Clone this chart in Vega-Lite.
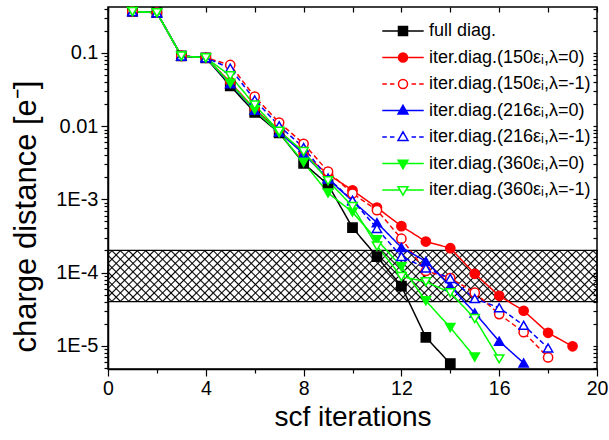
{
  "$schema": "https://vega.github.io/schema/vega-lite/v6.json",
  "width": 489,
  "height": 362,
  "autosize": "none",
  "padding": {"left": 108, "top": 7, "right": 12, "bottom": 71},
  "params": [
    {"name": "hatch", "value": [
      {"offset":0.0050,"color":"transparent"},{"offset":0.0078,"color":"#000"},{"offset":0.0106,"color":"transparent"},
      {"offset":0.0206,"color":"transparent"},{"offset":0.0234,"color":"#000"},{"offset":0.0262,"color":"transparent"},
      {"offset":0.0363,"color":"transparent"},{"offset":0.0391,"color":"#000"},{"offset":0.0419,"color":"transparent"},
      {"offset":0.0519,"color":"transparent"},{"offset":0.0547,"color":"#000"},{"offset":0.0575,"color":"transparent"},
      {"offset":0.0675,"color":"transparent"},{"offset":0.0703,"color":"#000"},{"offset":0.0731,"color":"transparent"},
      {"offset":0.0831,"color":"transparent"},{"offset":0.0859,"color":"#000"},{"offset":0.0887,"color":"transparent"},
      {"offset":0.0988,"color":"transparent"},{"offset":0.1016,"color":"#000"},{"offset":0.1044,"color":"transparent"},
      {"offset":0.1144,"color":"transparent"},{"offset":0.1172,"color":"#000"},{"offset":0.1200,"color":"transparent"},
      {"offset":0.1300,"color":"transparent"},{"offset":0.1328,"color":"#000"},{"offset":0.1356,"color":"transparent"},
      {"offset":0.1456,"color":"transparent"},{"offset":0.1484,"color":"#000"},{"offset":0.1512,"color":"transparent"},
      {"offset":0.1613,"color":"transparent"},{"offset":0.1641,"color":"#000"},{"offset":0.1669,"color":"transparent"},
      {"offset":0.1769,"color":"transparent"},{"offset":0.1797,"color":"#000"},{"offset":0.1825,"color":"transparent"},
      {"offset":0.1925,"color":"transparent"},{"offset":0.1953,"color":"#000"},{"offset":0.1981,"color":"transparent"},
      {"offset":0.2081,"color":"transparent"},{"offset":0.2109,"color":"#000"},{"offset":0.2137,"color":"transparent"},
      {"offset":0.2238,"color":"transparent"},{"offset":0.2266,"color":"#000"},{"offset":0.2294,"color":"transparent"},
      {"offset":0.2394,"color":"transparent"},{"offset":0.2422,"color":"#000"},{"offset":0.2450,"color":"transparent"},
      {"offset":0.2550,"color":"transparent"},{"offset":0.2578,"color":"#000"},{"offset":0.2606,"color":"transparent"},
      {"offset":0.2706,"color":"transparent"},{"offset":0.2734,"color":"#000"},{"offset":0.2762,"color":"transparent"},
      {"offset":0.2863,"color":"transparent"},{"offset":0.2891,"color":"#000"},{"offset":0.2919,"color":"transparent"},
      {"offset":0.3019,"color":"transparent"},{"offset":0.3047,"color":"#000"},{"offset":0.3075,"color":"transparent"},
      {"offset":0.3175,"color":"transparent"},{"offset":0.3203,"color":"#000"},{"offset":0.3231,"color":"transparent"},
      {"offset":0.3331,"color":"transparent"},{"offset":0.3359,"color":"#000"},{"offset":0.3387,"color":"transparent"},
      {"offset":0.3488,"color":"transparent"},{"offset":0.3516,"color":"#000"},{"offset":0.3544,"color":"transparent"},
      {"offset":0.3644,"color":"transparent"},{"offset":0.3672,"color":"#000"},{"offset":0.3700,"color":"transparent"},
      {"offset":0.3800,"color":"transparent"},{"offset":0.3828,"color":"#000"},{"offset":0.3856,"color":"transparent"},
      {"offset":0.3956,"color":"transparent"},{"offset":0.3984,"color":"#000"},{"offset":0.4012,"color":"transparent"},
      {"offset":0.4113,"color":"transparent"},{"offset":0.4141,"color":"#000"},{"offset":0.4169,"color":"transparent"},
      {"offset":0.4269,"color":"transparent"},{"offset":0.4297,"color":"#000"},{"offset":0.4325,"color":"transparent"},
      {"offset":0.4425,"color":"transparent"},{"offset":0.4453,"color":"#000"},{"offset":0.4481,"color":"transparent"},
      {"offset":0.4581,"color":"transparent"},{"offset":0.4609,"color":"#000"},{"offset":0.4637,"color":"transparent"},
      {"offset":0.4738,"color":"transparent"},{"offset":0.4766,"color":"#000"},{"offset":0.4794,"color":"transparent"},
      {"offset":0.4894,"color":"transparent"},{"offset":0.4922,"color":"#000"},{"offset":0.4950,"color":"transparent"},
      {"offset":0.5050,"color":"transparent"},{"offset":0.5078,"color":"#000"},{"offset":0.5106,"color":"transparent"},
      {"offset":0.5206,"color":"transparent"},{"offset":0.5234,"color":"#000"},{"offset":0.5262,"color":"transparent"},
      {"offset":0.5363,"color":"transparent"},{"offset":0.5391,"color":"#000"},{"offset":0.5419,"color":"transparent"},
      {"offset":0.5519,"color":"transparent"},{"offset":0.5547,"color":"#000"},{"offset":0.5575,"color":"transparent"},
      {"offset":0.5675,"color":"transparent"},{"offset":0.5703,"color":"#000"},{"offset":0.5731,"color":"transparent"},
      {"offset":0.5831,"color":"transparent"},{"offset":0.5859,"color":"#000"},{"offset":0.5887,"color":"transparent"},
      {"offset":0.5988,"color":"transparent"},{"offset":0.6016,"color":"#000"},{"offset":0.6044,"color":"transparent"},
      {"offset":0.6144,"color":"transparent"},{"offset":0.6172,"color":"#000"},{"offset":0.6200,"color":"transparent"},
      {"offset":0.6300,"color":"transparent"},{"offset":0.6328,"color":"#000"},{"offset":0.6356,"color":"transparent"},
      {"offset":0.6456,"color":"transparent"},{"offset":0.6484,"color":"#000"},{"offset":0.6512,"color":"transparent"},
      {"offset":0.6613,"color":"transparent"},{"offset":0.6641,"color":"#000"},{"offset":0.6669,"color":"transparent"},
      {"offset":0.6769,"color":"transparent"},{"offset":0.6797,"color":"#000"},{"offset":0.6825,"color":"transparent"},
      {"offset":0.6925,"color":"transparent"},{"offset":0.6953,"color":"#000"},{"offset":0.6981,"color":"transparent"},
      {"offset":0.7081,"color":"transparent"},{"offset":0.7109,"color":"#000"},{"offset":0.7137,"color":"transparent"},
      {"offset":0.7238,"color":"transparent"},{"offset":0.7266,"color":"#000"},{"offset":0.7294,"color":"transparent"},
      {"offset":0.7394,"color":"transparent"},{"offset":0.7422,"color":"#000"},{"offset":0.7450,"color":"transparent"},
      {"offset":0.7550,"color":"transparent"},{"offset":0.7578,"color":"#000"},{"offset":0.7606,"color":"transparent"},
      {"offset":0.7706,"color":"transparent"},{"offset":0.7734,"color":"#000"},{"offset":0.7762,"color":"transparent"},
      {"offset":0.7863,"color":"transparent"},{"offset":0.7891,"color":"#000"},{"offset":0.7919,"color":"transparent"},
      {"offset":0.8019,"color":"transparent"},{"offset":0.8047,"color":"#000"},{"offset":0.8075,"color":"transparent"},
      {"offset":0.8175,"color":"transparent"},{"offset":0.8203,"color":"#000"},{"offset":0.8231,"color":"transparent"},
      {"offset":0.8331,"color":"transparent"},{"offset":0.8359,"color":"#000"},{"offset":0.8387,"color":"transparent"},
      {"offset":0.8488,"color":"transparent"},{"offset":0.8516,"color":"#000"},{"offset":0.8544,"color":"transparent"},
      {"offset":0.8644,"color":"transparent"},{"offset":0.8672,"color":"#000"},{"offset":0.8700,"color":"transparent"},
      {"offset":0.8800,"color":"transparent"},{"offset":0.8828,"color":"#000"},{"offset":0.8856,"color":"transparent"},
      {"offset":0.8956,"color":"transparent"},{"offset":0.8984,"color":"#000"},{"offset":0.9012,"color":"transparent"},
      {"offset":0.9113,"color":"transparent"},{"offset":0.9141,"color":"#000"},{"offset":0.9169,"color":"transparent"},
      {"offset":0.9269,"color":"transparent"},{"offset":0.9297,"color":"#000"},{"offset":0.9325,"color":"transparent"},
      {"offset":0.9425,"color":"transparent"},{"offset":0.9453,"color":"#000"},{"offset":0.9481,"color":"transparent"},
      {"offset":0.9581,"color":"transparent"},{"offset":0.9609,"color":"#000"},{"offset":0.9637,"color":"transparent"},
      {"offset":0.9738,"color":"transparent"},{"offset":0.9766,"color":"#000"},{"offset":0.9794,"color":"transparent"},
      {"offset":0.9894,"color":"transparent"},{"offset":0.9922,"color":"#000"},{"offset":0.9950,"color":"transparent"}
    ]}
  ],
  "data": {
    "values": [
      {"s": "full diag.", "it": 1, "v": 0.37},
      {"s": "full diag.", "it": 2, "v": 0.355},
      {"s": "full diag.", "it": 3, "v": 0.091},
      {"s": "full diag.", "it": 4, "v": 0.086},
      {"s": "full diag.", "it": 5, "v": 0.0355},
      {"s": "full diag.", "it": 6, "v": 0.0154},
      {"s": "full diag.", "it": 7, "v": 0.0081},
      {"s": "full diag.", "it": 8, "v": 0.0031},
      {"s": "full diag.", "it": 9, "v": 0.00159},
      {"s": "full diag.", "it": 10, "v": 0.00041},
      {"s": "full diag.", "it": 11, "v": 0.000165},
      {"s": "full diag.", "it": 12, "v": 0.000065},
      {"s": "full diag.", "it": 13, "v": 0.000013},
      {"s": "full diag.", "it": 14, "v": 0.0000057},

      {"s": "iter.diag.(150εᵢ,λ=0)", "it": 1, "v": 0.37},
      {"s": "iter.diag.(150εᵢ,λ=0)", "it": 2, "v": 0.355},
      {"s": "iter.diag.(150εᵢ,λ=0)", "it": 3, "v": 0.091},
      {"s": "iter.diag.(150εᵢ,λ=0)", "it": 4, "v": 0.086},
      {"s": "iter.diag.(150εᵢ,λ=0)", "it": 5, "v": 0.04},
      {"s": "iter.diag.(150εᵢ,λ=0)", "it": 6, "v": 0.017},
      {"s": "iter.diag.(150εᵢ,λ=0)", "it": 7, "v": 0.0088},
      {"s": "iter.diag.(150εᵢ,λ=0)", "it": 8, "v": 0.0042},
      {"s": "iter.diag.(150εᵢ,λ=0)", "it": 9, "v": 0.0022},
      {"s": "iter.diag.(150εᵢ,λ=0)", "it": 10, "v": 0.00133},
      {"s": "iter.diag.(150εᵢ,λ=0)", "it": 11, "v": 0.00077},
      {"s": "iter.diag.(150εᵢ,λ=0)", "it": 12, "v": 0.00043},
      {"s": "iter.diag.(150εᵢ,λ=0)", "it": 13, "v": 0.000265},
      {"s": "iter.diag.(150εᵢ,λ=0)", "it": 14, "v": 0.000215},
      {"s": "iter.diag.(150εᵢ,λ=0)", "it": 15, "v": 0.000096},
      {"s": "iter.diag.(150εᵢ,λ=0)", "it": 16, "v": 0.000048},
      {"s": "iter.diag.(150εᵢ,λ=0)", "it": 17, "v": 0.00003},
      {"s": "iter.diag.(150εᵢ,λ=0)", "it": 18, "v": 0.000015},
      {"s": "iter.diag.(150εᵢ,λ=0)", "it": 19, "v": 0.0000098},

      {"s": "iter.diag.(150εᵢ,λ=-1)", "it": 1, "v": 0.37},
      {"s": "iter.diag.(150εᵢ,λ=-1)", "it": 2, "v": 0.355},
      {"s": "iter.diag.(150εᵢ,λ=-1)", "it": 3, "v": 0.091},
      {"s": "iter.diag.(150εᵢ,λ=-1)", "it": 4, "v": 0.086},
      {"s": "iter.diag.(150εᵢ,λ=-1)", "it": 5, "v": 0.0686},
      {"s": "iter.diag.(150εᵢ,λ=-1)", "it": 6, "v": 0.0253},
      {"s": "iter.diag.(150εᵢ,λ=-1)", "it": 7, "v": 0.0112},
      {"s": "iter.diag.(150εᵢ,λ=-1)", "it": 8, "v": 0.00575},
      {"s": "iter.diag.(150εᵢ,λ=-1)", "it": 9, "v": 0.0024},
      {"s": "iter.diag.(150εᵢ,λ=-1)", "it": 10, "v": 0.0012},
      {"s": "iter.diag.(150εᵢ,λ=-1)", "it": 11, "v": 0.00071},
      {"s": "iter.diag.(150εᵢ,λ=-1)", "it": 12, "v": 0.00029},
      {"s": "iter.diag.(150εᵢ,λ=-1)", "it": 13, "v": 0.000105},
      {"s": "iter.diag.(150εᵢ,λ=-1)", "it": 14, "v": 0.000084},
      {"s": "iter.diag.(150εᵢ,λ=-1)", "it": 15, "v": 0.000053},
      {"s": "iter.diag.(150εᵢ,λ=-1)", "it": 16, "v": 0.000027},
      {"s": "iter.diag.(150εᵢ,λ=-1)", "it": 17, "v": 0.0000153},
      {"s": "iter.diag.(150εᵢ,λ=-1)", "it": 18, "v": 0.0000069},

      {"s": "iter.diag.(216εᵢ,λ=0)", "it": 1, "v": 0.37},
      {"s": "iter.diag.(216εᵢ,λ=0)", "it": 2, "v": 0.355},
      {"s": "iter.diag.(216εᵢ,λ=0)", "it": 3, "v": 0.091},
      {"s": "iter.diag.(216εᵢ,λ=0)", "it": 4, "v": 0.086},
      {"s": "iter.diag.(216εᵢ,λ=0)", "it": 5, "v": 0.038},
      {"s": "iter.diag.(216εᵢ,λ=0)", "it": 6, "v": 0.0165},
      {"s": "iter.diag.(216εᵢ,λ=0)", "it": 7, "v": 0.0083},
      {"s": "iter.diag.(216εᵢ,λ=0)", "it": 8, "v": 0.0042},
      {"s": "iter.diag.(216εᵢ,λ=0)", "it": 9, "v": 0.0019},
      {"s": "iter.diag.(216εᵢ,λ=0)", "it": 10, "v": 0.00095},
      {"s": "iter.diag.(216εᵢ,λ=0)", "it": 11, "v": 0.00048},
      {"s": "iter.diag.(216εᵢ,λ=0)", "it": 12, "v": 0.00022},
      {"s": "iter.diag.(216εᵢ,λ=0)", "it": 13, "v": 0.000142},
      {"s": "iter.diag.(216εᵢ,λ=0)", "it": 14, "v": 0.000065},
      {"s": "iter.diag.(216εᵢ,λ=0)", "it": 15, "v": 0.000028},
      {"s": "iter.diag.(216εᵢ,λ=0)", "it": 16, "v": 0.0000115},
      {"s": "iter.diag.(216εᵢ,λ=0)", "it": 17, "v": 0.0000058},

      {"s": "iter.diag.(216εᵢ,λ=-1)", "it": 1, "v": 0.37},
      {"s": "iter.diag.(216εᵢ,λ=-1)", "it": 2, "v": 0.355},
      {"s": "iter.diag.(216εᵢ,λ=-1)", "it": 3, "v": 0.091},
      {"s": "iter.diag.(216εᵢ,λ=-1)", "it": 4, "v": 0.086},
      {"s": "iter.diag.(216εᵢ,λ=-1)", "it": 5, "v": 0.062},
      {"s": "iter.diag.(216εᵢ,λ=-1)", "it": 6, "v": 0.0228},
      {"s": "iter.diag.(216εᵢ,λ=-1)", "it": 7, "v": 0.0101},
      {"s": "iter.diag.(216εᵢ,λ=-1)", "it": 8, "v": 0.0051},
      {"s": "iter.diag.(216εᵢ,λ=-1)", "it": 9, "v": 0.00195},
      {"s": "iter.diag.(216εᵢ,λ=-1)", "it": 10, "v": 0.00097},
      {"s": "iter.diag.(216εᵢ,λ=-1)", "it": 11, "v": 0.0004},
      {"s": "iter.diag.(216εᵢ,λ=-1)", "it": 12, "v": 0.000166},
      {"s": "iter.diag.(216εᵢ,λ=-1)", "it": 13, "v": 0.000115},
      {"s": "iter.diag.(216εᵢ,λ=-1)", "it": 14, "v": 0.000083},
      {"s": "iter.diag.(216εᵢ,λ=-1)", "it": 15, "v": 0.000044},
      {"s": "iter.diag.(216εᵢ,λ=-1)", "it": 16, "v": 0.000033},
      {"s": "iter.diag.(216εᵢ,λ=-1)", "it": 17, "v": 0.000019},
      {"s": "iter.diag.(216εᵢ,λ=-1)", "it": 18, "v": 0.0000093},

      {"s": "iter.diag.(360εᵢ,λ=0)", "it": 1, "v": 0.37},
      {"s": "iter.diag.(360εᵢ,λ=0)", "it": 2, "v": 0.355},
      {"s": "iter.diag.(360εᵢ,λ=0)", "it": 3, "v": 0.091},
      {"s": "iter.diag.(360εᵢ,λ=0)", "it": 4, "v": 0.086},
      {"s": "iter.diag.(360εᵢ,λ=0)", "it": 5, "v": 0.0387},
      {"s": "iter.diag.(360εᵢ,λ=0)", "it": 6, "v": 0.0167},
      {"s": "iter.diag.(360εᵢ,λ=0)", "it": 7, "v": 0.0081},
      {"s": "iter.diag.(360εᵢ,λ=0)", "it": 8, "v": 0.0032},
      {"s": "iter.diag.(360εᵢ,λ=0)", "it": 9, "v": 0.00122},
      {"s": "iter.diag.(360εᵢ,λ=0)", "it": 10, "v": 0.00067},
      {"s": "iter.diag.(360εᵢ,λ=0)", "it": 11, "v": 0.00028},
      {"s": "iter.diag.(360εᵢ,λ=0)", "it": 12, "v": 0.00012},
      {"s": "iter.diag.(360εᵢ,λ=0)", "it": 13, "v": 0.000041},
      {"s": "iter.diag.(360εᵢ,λ=0)", "it": 14, "v": 0.0000177},
      {"s": "iter.diag.(360εᵢ,λ=0)", "it": 15, "v": 0.000007},

      {"s": "iter.diag.(360εᵢ,λ=-1)", "it": 1, "v": 0.37},
      {"s": "iter.diag.(360εᵢ,λ=-1)", "it": 2, "v": 0.355},
      {"s": "iter.diag.(360εᵢ,λ=-1)", "it": 3, "v": 0.091},
      {"s": "iter.diag.(360εᵢ,λ=-1)", "it": 4, "v": 0.086},
      {"s": "iter.diag.(360εᵢ,λ=-1)", "it": 5, "v": 0.049},
      {"s": "iter.diag.(360εᵢ,λ=-1)", "it": 6, "v": 0.0195},
      {"s": "iter.diag.(360εᵢ,λ=-1)", "it": 7, "v": 0.0085},
      {"s": "iter.diag.(360εᵢ,λ=-1)", "it": 8, "v": 0.0045},
      {"s": "iter.diag.(360εᵢ,λ=-1)", "it": 9, "v": 0.0018},
      {"s": "iter.diag.(360εᵢ,λ=-1)", "it": 10, "v": 0.0008},
      {"s": "iter.diag.(360εᵢ,λ=-1)", "it": 11, "v": 0.00023},
      {"s": "iter.diag.(360εᵢ,λ=-1)", "it": 12, "v": 0.000088},
      {"s": "iter.diag.(360εᵢ,λ=-1)", "it": 13, "v": 0.000075},
      {"s": "iter.diag.(360εᵢ,λ=-1)", "it": 14, "v": 0.000053},
      {"s": "iter.diag.(360εᵢ,λ=-1)", "it": 15, "v": 0.0000235},
      {"s": "iter.diag.(360εᵢ,λ=-1)", "it": 16, "v": 0.0000066}
    ]
  },
  "layer": [
    {
      "data": {"values": [{"x0": 0, "x1": 20, "lo": 0.00004, "hi": 0.0002}]},
      "mark": {"type": "rect", "fill": {"expr": "{gradient: 'linear', x1: 0, y1: 0, x2: 1.0927, y2: 0.1144, stops: hatch}"}},
      "encoding": {
        "x": {"field": "x0", "type": "quantitative",
              "scale": {"domain": [0, 20], "nice": false, "zero": false},
              "axis": {"orient": "top", "labels": false, "title": null, "domain": false, "offset": -5,
                       "values": [0, 2, 4, 6, 8, 10, 12, 14, 16, 18, 20], "tickSize": 5}},
        "x2": {"field": "x1"},
        "y": {"field": "lo", "type": "quantitative",
              "scale": {"type": "log", "domain": [0.0000048, 0.425], "nice": false},
              "axis": {"orient": "right", "labels": false, "title": null, "domain": false, "offset": -4,
                       "values": [0.000005, 0.000006, 0.000007, 0.000008, 0.000009, 0.00001, 0.00002, 0.00003, 0.00004, 0.00005, 0.00006, 0.00007, 0.00008, 0.00009, 0.0001, 0.0002, 0.0003, 0.0004, 0.0005, 0.0006, 0.0007, 0.0008, 0.0009, 0.001, 0.002, 0.003, 0.004, 0.005, 0.006, 0.007, 0.008, 0.009, 0.01, 0.02, 0.03, 0.04, 0.05, 0.06, 0.07, 0.08, 0.09, 0.1, 0.2, 0.3, 0.4],
                       "tickSize": 4}},
        "y2": {"field": "hi"}
      }
    },
    {
      "data": {"values": [{"x0": 0, "x1": 20, "lo": 0.00004, "hi": 0.0002}]},
      "mark": {"type": "rect", "stroke": "#000", "strokeWidth": 1.2,
               "fill": {"expr": "{gradient: 'linear', x1: 0, y1: 1, x2: 1.0927, y2: 0.8856, stops: hatch}"}},
      "encoding": {
        "x": {"field": "x0", "type": "quantitative", "scale": {"domain": [0, 20], "nice": false, "zero": false}, "axis": null},
        "x2": {"field": "x1"},
        "y": {"field": "lo", "type": "quantitative", "scale": {"type": "log", "domain": [0.0000048, 0.425], "nice": false}, "axis": null},
        "y2": {"field": "hi"}
      }
    },
    {
      "mark": {"type": "line", "strokeWidth": 1.5},
      "encoding": {
        "x": {"field": "it", "type": "quantitative",
              "scale": {"domain": [0, 20], "nice": false, "zero": false},
              "axis": {"title": "scf iterations", "orient": "bottom",
                       "values": [0, 2, 4, 6, 8, 10, 12, 14, 16, 18, 20],
                       "labelExpr": "datum.value % 4 === 0 ? datum.label : ''",
                       "tickSize": {"condition": {"test": "datum.value % 4 === 0", "value": 7}, "value": 4},
                       "labelFontSize": 19.5,
                       "labelFlush": false, "labelOverlap": false, "labelPadding": 3, "titlePadding": 6}},
        "y": {"field": "v", "type": "quantitative",
              "scale": {"type": "log", "domain": [0.0000048, 0.425], "nice": false},
              "axis": {"title": "charge distance [e⁻]", "orient": "left",
                       "values": [0.000005, 0.000006, 0.000007, 0.000008, 0.000009, 0.00001, 0.00002, 0.00003, 0.00004, 0.00005, 0.00006, 0.00007, 0.00008, 0.00009, 0.0001, 0.0002, 0.0003, 0.0004, 0.0005, 0.0006, 0.0007, 0.0008, 0.0009, 0.001, 0.002, 0.003, 0.004, 0.005, 0.006, 0.007, 0.008, 0.009, 0.01, 0.02, 0.03, 0.04, 0.05, 0.06, 0.07, 0.08, 0.09, 0.1, 0.2, 0.3, 0.4],
                       "labelExpr": "abs(log(datum.value)/LN10 - round(log(datum.value)/LN10)) < 0.001 ? (datum.value >= 0.01 ? format(datum.value, '') : '1E' + round(log(datum.value)/LN10)) : ''",
                       "tickSize": {"condition": {"test": "abs(log(datum.value)/LN10 - round(log(datum.value)/LN10)) < 0.001", "value": 7}, "value": 4},
                       "labelFontSize": 20, "titleFontSize": 31, "titleY": 209,
                       "labelOverlap": false, "labelFlush": false, "labelPadding": 3, "titlePadding": 13}},
        "color": {"field": "s", "type": "nominal", "legend": null,
                  "scale": {"domain": ["full diag.", "iter.diag.(150εᵢ,λ=0)", "iter.diag.(150εᵢ,λ=-1)", "iter.diag.(216εᵢ,λ=0)", "iter.diag.(216εᵢ,λ=-1)", "iter.diag.(360εᵢ,λ=0)", "iter.diag.(360εᵢ,λ=-1)"],
                            "range": ["#000000", "#ff0000", "#ff0000", "#0000ff", "#0000ff", "#00ff00", "#00ff00"]}},
        "strokeDash": {"field": "s", "type": "nominal", "legend": null,
                       "scale": {"domain": ["full diag.", "iter.diag.(150εᵢ,λ=0)", "iter.diag.(150εᵢ,λ=-1)", "iter.diag.(216εᵢ,λ=0)", "iter.diag.(216εᵢ,λ=-1)", "iter.diag.(360εᵢ,λ=0)", "iter.diag.(360εᵢ,λ=-1)"],
                                 "range": [[1, 0], [1, 0], [5, 3], [1, 0], [5, 3], [1, 0], [1, 0]]}}
      }
    },
    {
      "mark": {"type": "point", "size": 85, "strokeWidth": 1.5, "opacity": 1},
      "encoding": {
        "x": {"field": "it", "type": "quantitative", "scale": {"domain": [0, 20], "nice": false, "zero": false}, "axis": null},
        "y": {"field": "v", "type": "quantitative", "scale": {"type": "log", "domain": [0.0000048, 0.425], "nice": false}, "axis": null},
        "shape": {"field": "s", "type": "nominal", "legend": null,
                  "scale": {"domain": ["full diag.", "iter.diag.(150εᵢ,λ=0)", "iter.diag.(150εᵢ,λ=-1)", "iter.diag.(216εᵢ,λ=0)", "iter.diag.(216εᵢ,λ=-1)", "iter.diag.(360εᵢ,λ=0)", "iter.diag.(360εᵢ,λ=-1)"],
                            "range": ["square", "circle", "circle", "triangle-up", "triangle-up", "triangle-down", "triangle-down"]}},
        "stroke": {"field": "s", "type": "nominal", "legend": null,
                   "scale": {"domain": ["full diag.", "iter.diag.(150εᵢ,λ=0)", "iter.diag.(150εᵢ,λ=-1)", "iter.diag.(216εᵢ,λ=0)", "iter.diag.(216εᵢ,λ=-1)", "iter.diag.(360εᵢ,λ=0)", "iter.diag.(360εᵢ,λ=-1)"],
                             "range": ["#000000", "#ff0000", "#ff0000", "#0000ff", "#0000ff", "#00ff00", "#00ff00"]}},
        "fill": {"field": "s", "type": "nominal", "legend": null,
                 "scale": {"domain": ["full diag.", "iter.diag.(150εᵢ,λ=0)", "iter.diag.(150εᵢ,λ=-1)", "iter.diag.(216εᵢ,λ=0)", "iter.diag.(216εᵢ,λ=-1)", "iter.diag.(360εᵢ,λ=0)", "iter.diag.(360εᵢ,λ=-1)"],
                           "range": ["#000000", "#ff0000", "#ffffff", "#0000ff", "#ffffff", "#00ff00", "#ffffff"]}}
      }
    },
    {
      "mark": {"type": "point", "size": 85, "strokeWidth": 1.5, "opacity": 0},
      "encoding": {
        "x": {"field": "it", "type": "quantitative", "scale": {"domain": [0, 20], "nice": false, "zero": false}, "axis": null},
        "y": {"field": "v", "type": "quantitative", "scale": {"type": "log", "domain": [0.0000048, 0.425], "nice": false}, "axis": null},
        "shape": {"field": "s", "type": "nominal",
                  "scale": {"domain": ["full diag.", "iter.diag.(150εᵢ,λ=0)", "iter.diag.(150εᵢ,λ=-1)", "iter.diag.(216εᵢ,λ=0)", "iter.diag.(216εᵢ,λ=-1)", "iter.diag.(360εᵢ,λ=0)", "iter.diag.(360εᵢ,λ=-1)"],
                            "range": ["M-4.6,0H-1M1,0H4.6M-1,-1H1V1H-1Z", "M-4.6,0H-1M1,0H4.6M1,0A1,1,0,1,1,-1,0A1,1,0,1,1,1,0Z", "M-4.6,0H-3.6M-2.9,0H-1.9M1.9,0H2.9M3.6,0H4.6M1,0A1,1,0,1,1,-1,0A1,1,0,1,1,1,0Z", "M-4.6,0H-0.67M0.67,0H4.6M0,-1.15L1.1,0.75H-1.1Z", "M-4.6,0H-3.6M-2.9,0H-1.9M1.9,0H2.9M3.6,0H4.6M0,-1.15L1.1,0.75H-1.1Z", "M-4.6,0H-0.67M0.67,0H4.6M0,1.15L1.1,-0.75H-1.1Z", "M-4.6,0H-0.67M0.67,0H4.6M0,1.15L1.1,-0.75H-1.1Z"]},
                  "legend": {"orient": "none", "legendX": 286, "legendY": 15, "title": null,
                             "labelFontSize": 18, "labelFont": "Liberation Sans", "labelColor": "#000", "labelLimit": 0,
                             "symbolSize": 81, "symbolStrokeWidth": 1.5, "symbolOpacity": 1, "labelOffset": 17, "rowPadding": 8.5}},
        "stroke": {"field": "s", "type": "nominal",
                   "scale": {"domain": ["full diag.", "iter.diag.(150εᵢ,λ=0)", "iter.diag.(150εᵢ,λ=-1)", "iter.diag.(216εᵢ,λ=0)", "iter.diag.(216εᵢ,λ=-1)", "iter.diag.(360εᵢ,λ=0)", "iter.diag.(360εᵢ,λ=-1)"],
                             "range": ["#000000", "#ff0000", "#ff0000", "#0000ff", "#0000ff", "#00ff00", "#00ff00"]}},
        "fill": {"field": "s", "type": "nominal",
                 "scale": {"domain": ["full diag.", "iter.diag.(150εᵢ,λ=0)", "iter.diag.(150εᵢ,λ=-1)", "iter.diag.(216εᵢ,λ=0)", "iter.diag.(216εᵢ,λ=-1)", "iter.diag.(360εᵢ,λ=0)", "iter.diag.(360εᵢ,λ=-1)"],
                           "range": ["#000000", "#ff0000", "#ffffff", "#0000ff", "#ffffff", "#00ff00", "#ffffff"]}}
      }
    }
  ],
  "resolve": {
    "axis": {"x": "independent", "y": "independent"},
    "scale": {"shape": "independent", "stroke": "independent", "fill": "independent"}
  },
  "config": {
    "font": "Liberation Sans",
    "view": {"stroke": "#000000", "strokeWidth": 1.5},
    "axis": {
      "grid": false,
      "labelFont": "Liberation Sans", "labelFontSize": 19, "labelColor": "#000000",
      "titleFont": "Liberation Sans", "titleFontSize": 28, "titleFontWeight": "normal", "titleColor": "#000000",
      "tickColor": "#000000", "tickWidth": 1.2, "domainColor": "#000000", "domainWidth": 1.5
    }
  }
}
